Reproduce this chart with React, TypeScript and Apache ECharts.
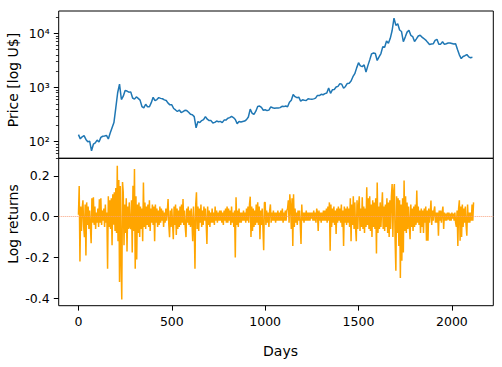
import React, { useEffect, useRef } from "react";
import * as echarts from "echarts";

// Daily BTC close (US$), sampled every PRICE_STEP days from day 0
const PRICE_STEP = 10;
const prices = [
  135, 113, 123, 129, 110, 100, 102, 68, 90, 95,
  107, 99, 120, 126, 127, 131, 112, 145, 180, 225,
  420, 800, 1150, 600, 690, 880, 860, 820, 830, 640,
  610, 670, 630, 585, 445, 420, 490, 440, 440, 525,
  660, 570, 600, 650, 630, 620, 590, 575, 515, 478,
  478, 410, 385, 360, 385, 345, 360, 380, 375, 350,
  320, 315, 290, 180, 235, 225, 245, 255, 290, 260,
  245, 245, 222, 227, 240, 234, 237, 225, 250, 250,
  270, 278, 293, 279, 257, 215, 235, 230, 235, 240,
  255, 285, 400, 335, 320, 365, 445, 455, 430, 380,
  388, 375, 382, 438, 422, 414, 418, 418, 425, 450,
  444, 455, 440, 535, 580, 740, 676, 648, 665, 560,
  592, 580, 575, 622, 610, 605, 617, 637, 715, 710,
  750, 735, 770, 790, 975, 780, 905, 920, 1020, 1050,
  1180, 1150, 970, 1045, 1190, 1200, 1320, 1580, 1800, 2300,
  2860, 2500, 2430, 2610, 1930, 2530, 3230, 4180, 4330, 4230,
  3150, 3660, 4230, 5680, 5530, 7200, 6550, 8060, 11250, 19000,
  14000, 15000, 11500, 10800, 7000, 8500, 10500, 11400, 9150, 8700,
  7050, 7900, 8900, 9200, 8500, 8000, 7500, 6800, 6200, 6350,
  6400, 7400, 7730, 6300, 6300, 6980, 6250, 6400, 6600, 6630,
  6490, 6340, 6420, 5000, 4000, 3420, 3740, 3860, 4050, 3680,
  3540, 3600,
];

// Log returns, sampled every RET_STEP days from day 0
const RET_STEP = 4;
const returns = [
  0.01, 0.15, -0.22, 0.05, -0.07, 0.04, 0.08, -0.05, -0.1, 0.06,
  -0.19, 0.07, -0.04, 0.05, -0.06, 0.03, -0.05, -0.13, 0.09, -0.03,
  0.095, -0.04, 0.05, -0.06, 0.02, -0.03, 0.04, -0.05, 0.085, -0.03,
  0.09, -0.04, 0.03, -0.02, 0.04, -0.05, 0.06, -0.03, 0.02, -0.255,
  0.1, -0.05, 0.08, -0.06, 0.09, -0.14, 0.11, -0.04, 0.12, -0.07,
  0.14, -0.08, 0.25, -0.12, 0.18, -0.32, 0.15, -0.2, -0.405, 0.17,
  0.12, -0.14, 0.06, -0.08, 0.09, -0.17, 0.05, -0.06, 0.07, -0.05,
  -0.06, 0.08, -0.175, 0.152, -0.07, 0.234, -0.255, 0.1, -0.21, 0.06,
  -0.08, 0.07, -0.1, 0.05, -0.06, 0.04, -0.12, 0.168, -0.05, 0.07,
  -0.06, 0.05, -0.04, 0.06, -0.05, 0.08, -0.07, 0.04, -0.03, 0.06,
  -0.04, 0.05, -0.12, 0.06, -0.03, 0.04, -0.05, 0.03, -0.04, 0.05,
  -0.03, 0.04, -0.02, 0.03, -0.05, 0.02, -0.03, 0.04, -0.02, 0.03,
  0.087, -0.04, -0.1, 0.03, -0.05, 0.04, -0.03, -0.11, 0.05, -0.04,
  0.06, -0.09, 0.04, -0.06, 0.03, -0.05, 0.05, -0.04, 0.06, -0.03,
  0.087, -0.04, 0.03, -0.05, -0.1, 0.04, -0.03, 0.05, -0.04, 0.03,
  -0.05, 0.04, -0.03, -0.12, 0.05, -0.04, -0.255, 0.06, 0.12, -0.06,
  0.05, -0.07, 0.04, -0.03, 0.06, -0.05, 0.03, -0.04, 0.05, -0.02,
  0.04, -0.03, -0.134, 0.05, -0.04, 0.03, -0.05, 0.02, -0.03, 0.04,
  -0.03, 0.02, -0.04, 0.05, -0.02, 0.03, -0.03, 0.02, -0.02, 0.03,
  -0.02, 0.03, -0.03, 0.02, -0.04, 0.03, -0.02, 0.04, -0.03, 0.05,
  -0.03, 0.04, -0.02, 0.03, -0.04, 0.05, -0.03, 0.02, -0.05, 0.03,
  -0.2, 0.095, -0.04, 0.03, -0.05, 0.04, -0.03, 0.02, -0.03, 0.02,
  -0.02, 0.03, -0.02, 0.02, -0.03, 0.04, -0.02, 0.05, -0.03, 0.06,
  0.098, -0.1, 0.05, -0.07, 0.04, -0.05, 0.03, -0.04, 0.06, -0.03,
  0.07, -0.04, 0.05, -0.11, 0.03, -0.04, 0.04, -0.05, -0.164, 0.07,
  0.07, -0.04, 0.03, -0.03, 0.02, -0.05, 0.03, 0.06, -0.03, 0.02,
  -0.02, 0.03, -0.02, 0.02, -0.03, 0.02, -0.02, 0.03, -0.02, 0.02,
  -0.02, 0.03, -0.02, 0.04, -0.03, 0.02, -0.02, 0.03, -0.02, 0.03,
  0.04, 0.08, -0.03, 0.11, 0.05, -0.06, 0.09, -0.143, 0.11, -0.05,
  0.04, -0.03, 0.02, -0.04, 0.03, -0.02, 0.03, -0.04, -0.134, 0.06,
  -0.02, 0.02, -0.03, 0.02, -0.02, 0.03, -0.02, 0.02, -0.02, 0.02,
  -0.02, 0.02, -0.01, 0.02, -0.02, 0.03, -0.02, 0.02, -0.03, 0.04,
  0.02, -0.07, 0.03, -0.02, 0.02, -0.03, 0.02, -0.02, 0.03, -0.02,
  0.03, -0.02, 0.04, -0.03, 0.05, -0.02, 0.07, -0.167, 0.06, -0.05,
  0.04, -0.03, 0.05, -0.04, 0.03, -0.085, 0.04, -0.03, 0.05, -0.02,
  0.04, -0.03, 0.06, -0.05, 0.03, -0.143, 0.05, -0.03, 0.04, -0.04,
  0.05, -0.03, 0.04, -0.05, 0.09, -0.12, 0.06, -0.04, 0.1, -0.06,
  0.07, -0.05, -0.12, 0.08, -0.06, 0.05, 0.1, -0.07, 0.04, -0.05,
  0.095, -0.06, 0.05, -0.08, 0.04, -0.05, 0.144, -0.04, 0.09, -0.06,
  0.1, -0.07, 0.06, -0.1, 0.08, -0.05, 0.07, -0.06, 0.09, -0.18,
  0.168, -0.08, 0.05, -0.06, 0.07, -0.05, 0.04, 0.12, -0.06, 0.05,
  -0.07, 0.06, -0.05, 0.09, -0.08, 0.07, -0.1, 0.08, -0.06, 0.1,
  0.16, -0.1, 0.12, 0.16, -0.12, -0.265, 0.1, -0.08, 0.09, -0.143,
  0.08, -0.3, 0.06, -0.216, 0.09, -0.175, 0.177, -0.07, 0.1, -0.08,
  0.07, -0.06, 0.05, -0.04, -0.11, 0.06, -0.05, 0.04, -0.07, 0.05,
  -0.05, 0.06, -0.04, 0.128, -0.03, 0.05, -0.04, 0.03, -0.08, 0.04,
  -0.05, 0.03, -0.08, 0.04, -0.03, 0.05, -0.118, 0.03, -0.118, 0.04,
  -0.03, 0.02, 0.079, -0.04, 0.03, -0.02, 0.03, 0.05, -0.03, 0.02,
  -0.03, 0.02, -0.093, 0.03, -0.02, 0.03, -0.03, 0.02, 0.05, -0.06,
  0.02, -0.02, 0.015, -0.02, 0.02, -0.015, 0.02, -0.02, 0.015, -0.02,
  0.02, -0.01, 0.015, -0.02, 0.02, -0.03, -0.05, 0.03, -0.143, 0.04,
  0.08, -0.118, 0.05, -0.1, 0.06, -0.05, 0.04, -0.03, 0.05, -0.04,
  -0.093, 0.06, -0.03, 0.02, -0.03, 0.02, -0.02, 0.06, -0.02, 0.07,
];

const dayTicks = [0, 500, 1000, 1500, 2000];
const priceMajorTicks = [100, 1000, 10000];
const priceMajorLabels = ["10²", "10³", "10⁴"];
const priceMinorTicks = [
  50, 60, 70, 80, 90,
  200, 300, 400, 500, 600, 700, 800, 900,
  2000, 3000, 4000, 5000, 6000, 7000, 8000, 9000,
  20000,
];
const returnTicks = [-0.4, -0.2, 0, 0.2];

const FONT = "DejaVu Sans";

export default function App() {
  const ref = useRef<HTMLDivElement>(null);
  useEffect(() => {
    if (!ref.current) return;
    const chart = echarts.init(ref.current, undefined, { renderer: "svg" });
    const xMin = -105.8;
    const xMax = 2221.8;
    const priceData = prices.map((p, i) => [i * PRICE_STEP, p]);
    const retData = returns.map((r, i) => [i * RET_STEP, r]);
    const tickLine = { color: "#000", width: 1 };
    const noLine = { show: false, onZero: false };
    chart.setOption({
      animation: false,
      backgroundColor: "#fff",
      grid: [
        { left: 58.7, top: 11, width: 434.6, height: 147.3, show: true, borderColor: "#000", borderWidth: 1 },
        { left: 58.7, top: 158.3, width: 434.6, height: 147.4, show: true, borderColor: "#000", borderWidth: 1 },
      ],
      xAxis: [
        {
          gridIndex: 0, type: "value", min: xMin, max: xMax, position: "bottom",
          axisLine: noLine, axisTick: { show: false },
          axisLabel: { show: false }, splitLine: { show: false },
        },
        {
          gridIndex: 1, type: "value", min: xMin, max: xMax, position: "bottom",
          axisLine: noLine,
          axisTick: { show: true, customValues: dayTicks, length: 4.9, lineStyle: tickLine },
          axisLabel: {
            show: true, customValues: dayTicks, margin: 9, color: "#000",
            fontFamily: FONT, fontSize: 12.5,
            formatter: (v: number) => String(v),
          },
          splitLine: { show: false },
        },
      ],
      yAxis: [
        {
          gridIndex: 0, type: "log", logBase: 10, min: 49.4, max: 25760, position: "left",
          axisLine: noLine,
          axisTick: { show: true, customValues: priceMajorTicks, length: 4.9, lineStyle: tickLine },
          axisLabel: {
            show: true, customValues: priceMajorTicks, margin: 9, color: "#000",
            fontFamily: FONT, fontSize: 12.5,
            formatter: (v: number) => priceMajorLabels[priceMajorTicks.indexOf(Math.round(v))] ?? "",
          },
          splitLine: { show: false },
        },
        {
          gridIndex: 0, type: "log", logBase: 10, min: 49.4, max: 25760, position: "left", offset: 0,
          axisLine: noLine,
          axisTick: { show: true, customValues: priceMinorTicks, length: 2.8, lineStyle: { color: "#000", width: 0.8 } },
          axisLabel: { show: false },
          splitLine: { show: false },
        },
        {
          gridIndex: 1, type: "value", min: -0.436, max: 0.286, position: "left",
          axisLine: noLine,
          axisTick: { show: true, customValues: returnTicks, length: 4.9, lineStyle: tickLine },
          axisLabel: {
            show: true, customValues: returnTicks, margin: 9, color: "#000",
            fontFamily: FONT, fontSize: 12.5,
            formatter: (v: number) => v.toFixed(1),
          },
          splitLine: { show: false },
        },
      ],
      series: [
        {
          type: "line", xAxisIndex: 0, yAxisIndex: 0, data: priceData,
          symbol: "none", lineStyle: { color: "#1f77b4", width: 1.5 },
        },
        {
          type: "line", xAxisIndex: 1, yAxisIndex: 2, data: retData,
          symbol: "none", lineStyle: { color: "#ffa500", width: 1.5 },
          markLine: {
            silent: true, symbol: "none", label: { show: false },
            lineStyle: { type: "dotted", color: "#f8a27e", width: 1 },
            data: [{ yAxis: 0 }],
          },
        },
      ],
      graphic: [
        {
          type: "text", x: 13.3, y: 80, rotation: Math.PI / 2,
          style: { text: "Price [log U$]", font: `14px '${FONT}'`, fill: "#000", textAlign: "center", textVerticalAlign: "middle" },
        },
        {
          type: "text", x: 13.3, y: 224, rotation: Math.PI / 2,
          style: { text: "Log returns", font: `14px '${FONT}'`, fill: "#000", textAlign: "center", textVerticalAlign: "middle" },
        },
        {
          type: "text", x: 280.5, y: 351,
          style: { text: "Days", font: `14px '${FONT}'`, fill: "#000", textAlign: "center", textVerticalAlign: "middle" },
        },
      ],
    });
    return () => chart.dispose();
  }, []);
  return (
    <div
      ref={ref}
      style={{ position: "absolute", left: 0, top: 0, width: 502, height: 367 }}
    />
  );
}
